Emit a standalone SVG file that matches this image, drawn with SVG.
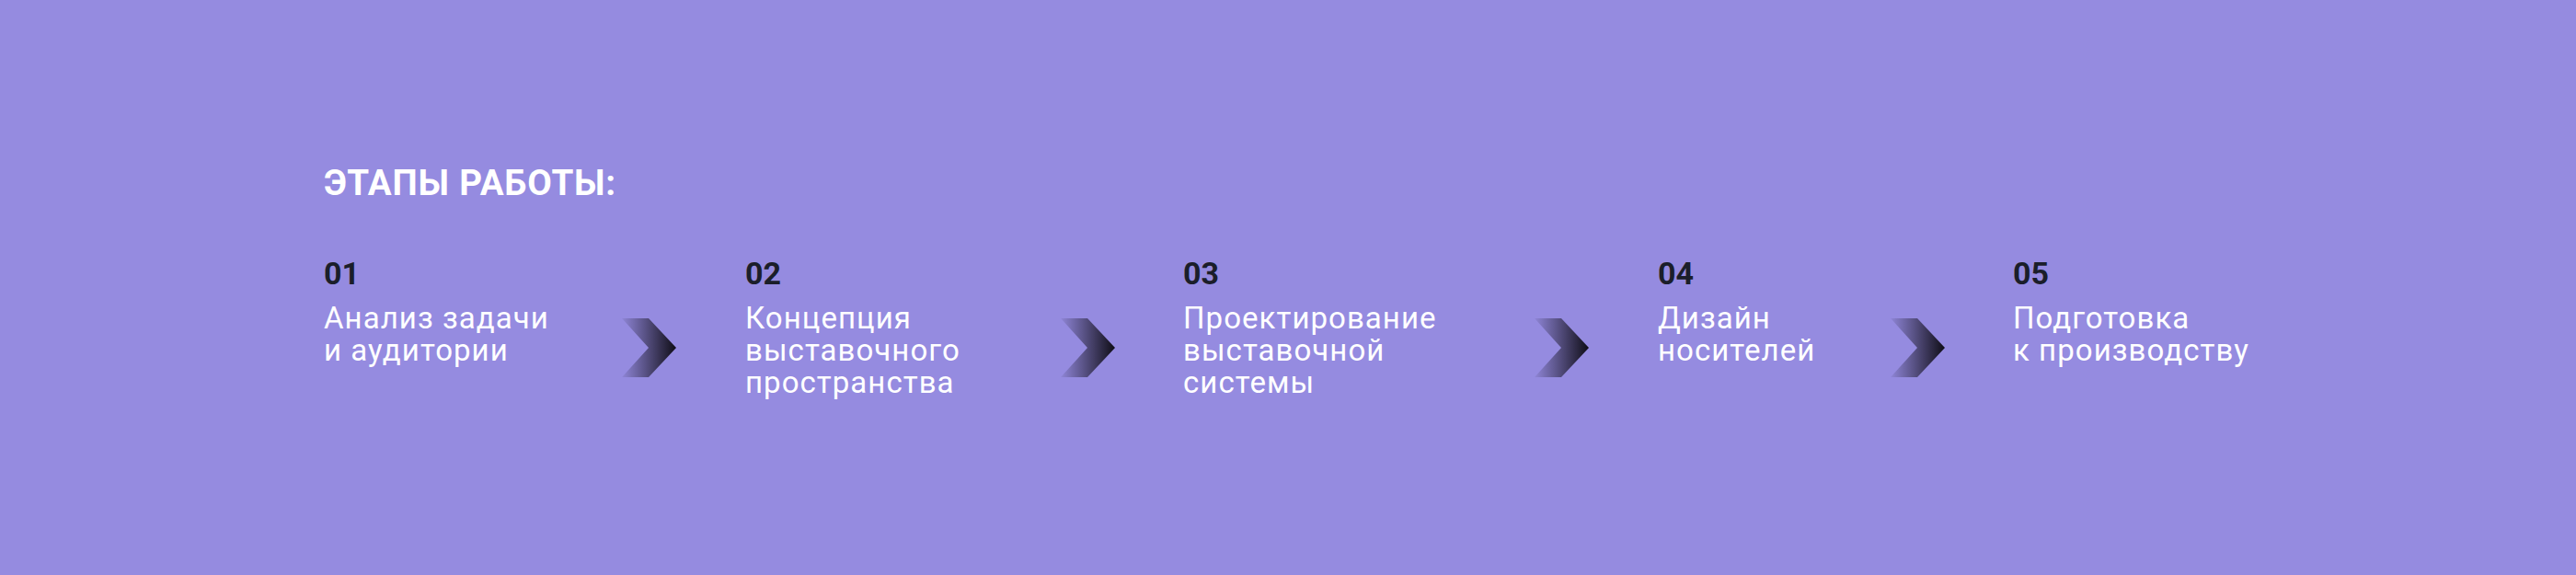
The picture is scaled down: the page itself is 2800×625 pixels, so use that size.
<svg xmlns="http://www.w3.org/2000/svg" width="2800" height="625" viewBox="0 0 2800 625">
  <defs>
    <linearGradient id="chev" x1="0" y1="0" x2="1" y2="0">
      <stop offset="0" stop-color="#120f1b" stop-opacity="0.05"/>
      <stop offset="1" stop-color="#0f0d16" stop-opacity="1"/>
    </linearGradient>
    <polygon id="chevron" points="0,0 29,0 59,32 29,64 0,64 29,32" fill="url(#chev)"/>
  </defs>
  <style>
    .title { font-family: Roboto, "Liberation Sans", sans-serif; font-weight: 700; font-size: 38.5px; letter-spacing: 0.8px; fill: #ffffff; }
    .num { font-family: Roboto, "Liberation Sans", sans-serif; font-weight: 700; font-size: 34px; fill: #1b1e2a; }
    .lbl { font-family: Roboto, "Liberation Sans", sans-serif; font-weight: 400; font-size: 33px; letter-spacing: 1.05px; fill: #ffffff; }
  </style>
  <rect width="2800" height="625" fill="#958be0"/>
  <text id="title" class="title" x="352" y="212">ЭТАПЫ РАБОТЫ:</text>
  <g id="step1">
    <text class="num" x="352" y="309">01</text>
    <text class="lbl" x="352" y="357">Анализ задачи</text>
    <text class="lbl" x="352" y="392">и аудитории</text>
  </g>
  <g id="step2">
    <text class="num" x="810" y="309">02</text>
    <text class="lbl" x="810" y="357">Концепция</text>
    <text class="lbl" x="810" y="392">выставочного</text>
    <text class="lbl" x="810" y="427">пространства</text>
  </g>
  <g id="step3">
    <text class="num" x="1286" y="309">03</text>
    <text class="lbl" x="1286" y="357">Проектирование</text>
    <text class="lbl" x="1286" y="392">выставочной</text>
    <text class="lbl" x="1286" y="427">системы</text>
  </g>
  <g id="step4">
    <text class="num" x="1802" y="309">04</text>
    <text class="lbl" x="1802" y="357">Дизайн</text>
    <text class="lbl" x="1802" y="392">носителей</text>
  </g>
  <g id="step5">
    <text class="num" x="2188" y="309">05</text>
    <text class="lbl" x="2188" y="357">Подготовка</text>
    <text class="lbl" x="2188" y="392">к производству</text>
  </g>
  <g id="connectors">
    <use href="#chevron" x="676" y="346"/>
    <use href="#chevron" x="1153" y="346"/>
    <use href="#chevron" x="1668" y="346"/>
    <use href="#chevron" x="2055" y="346"/>
  </g>
</svg>
